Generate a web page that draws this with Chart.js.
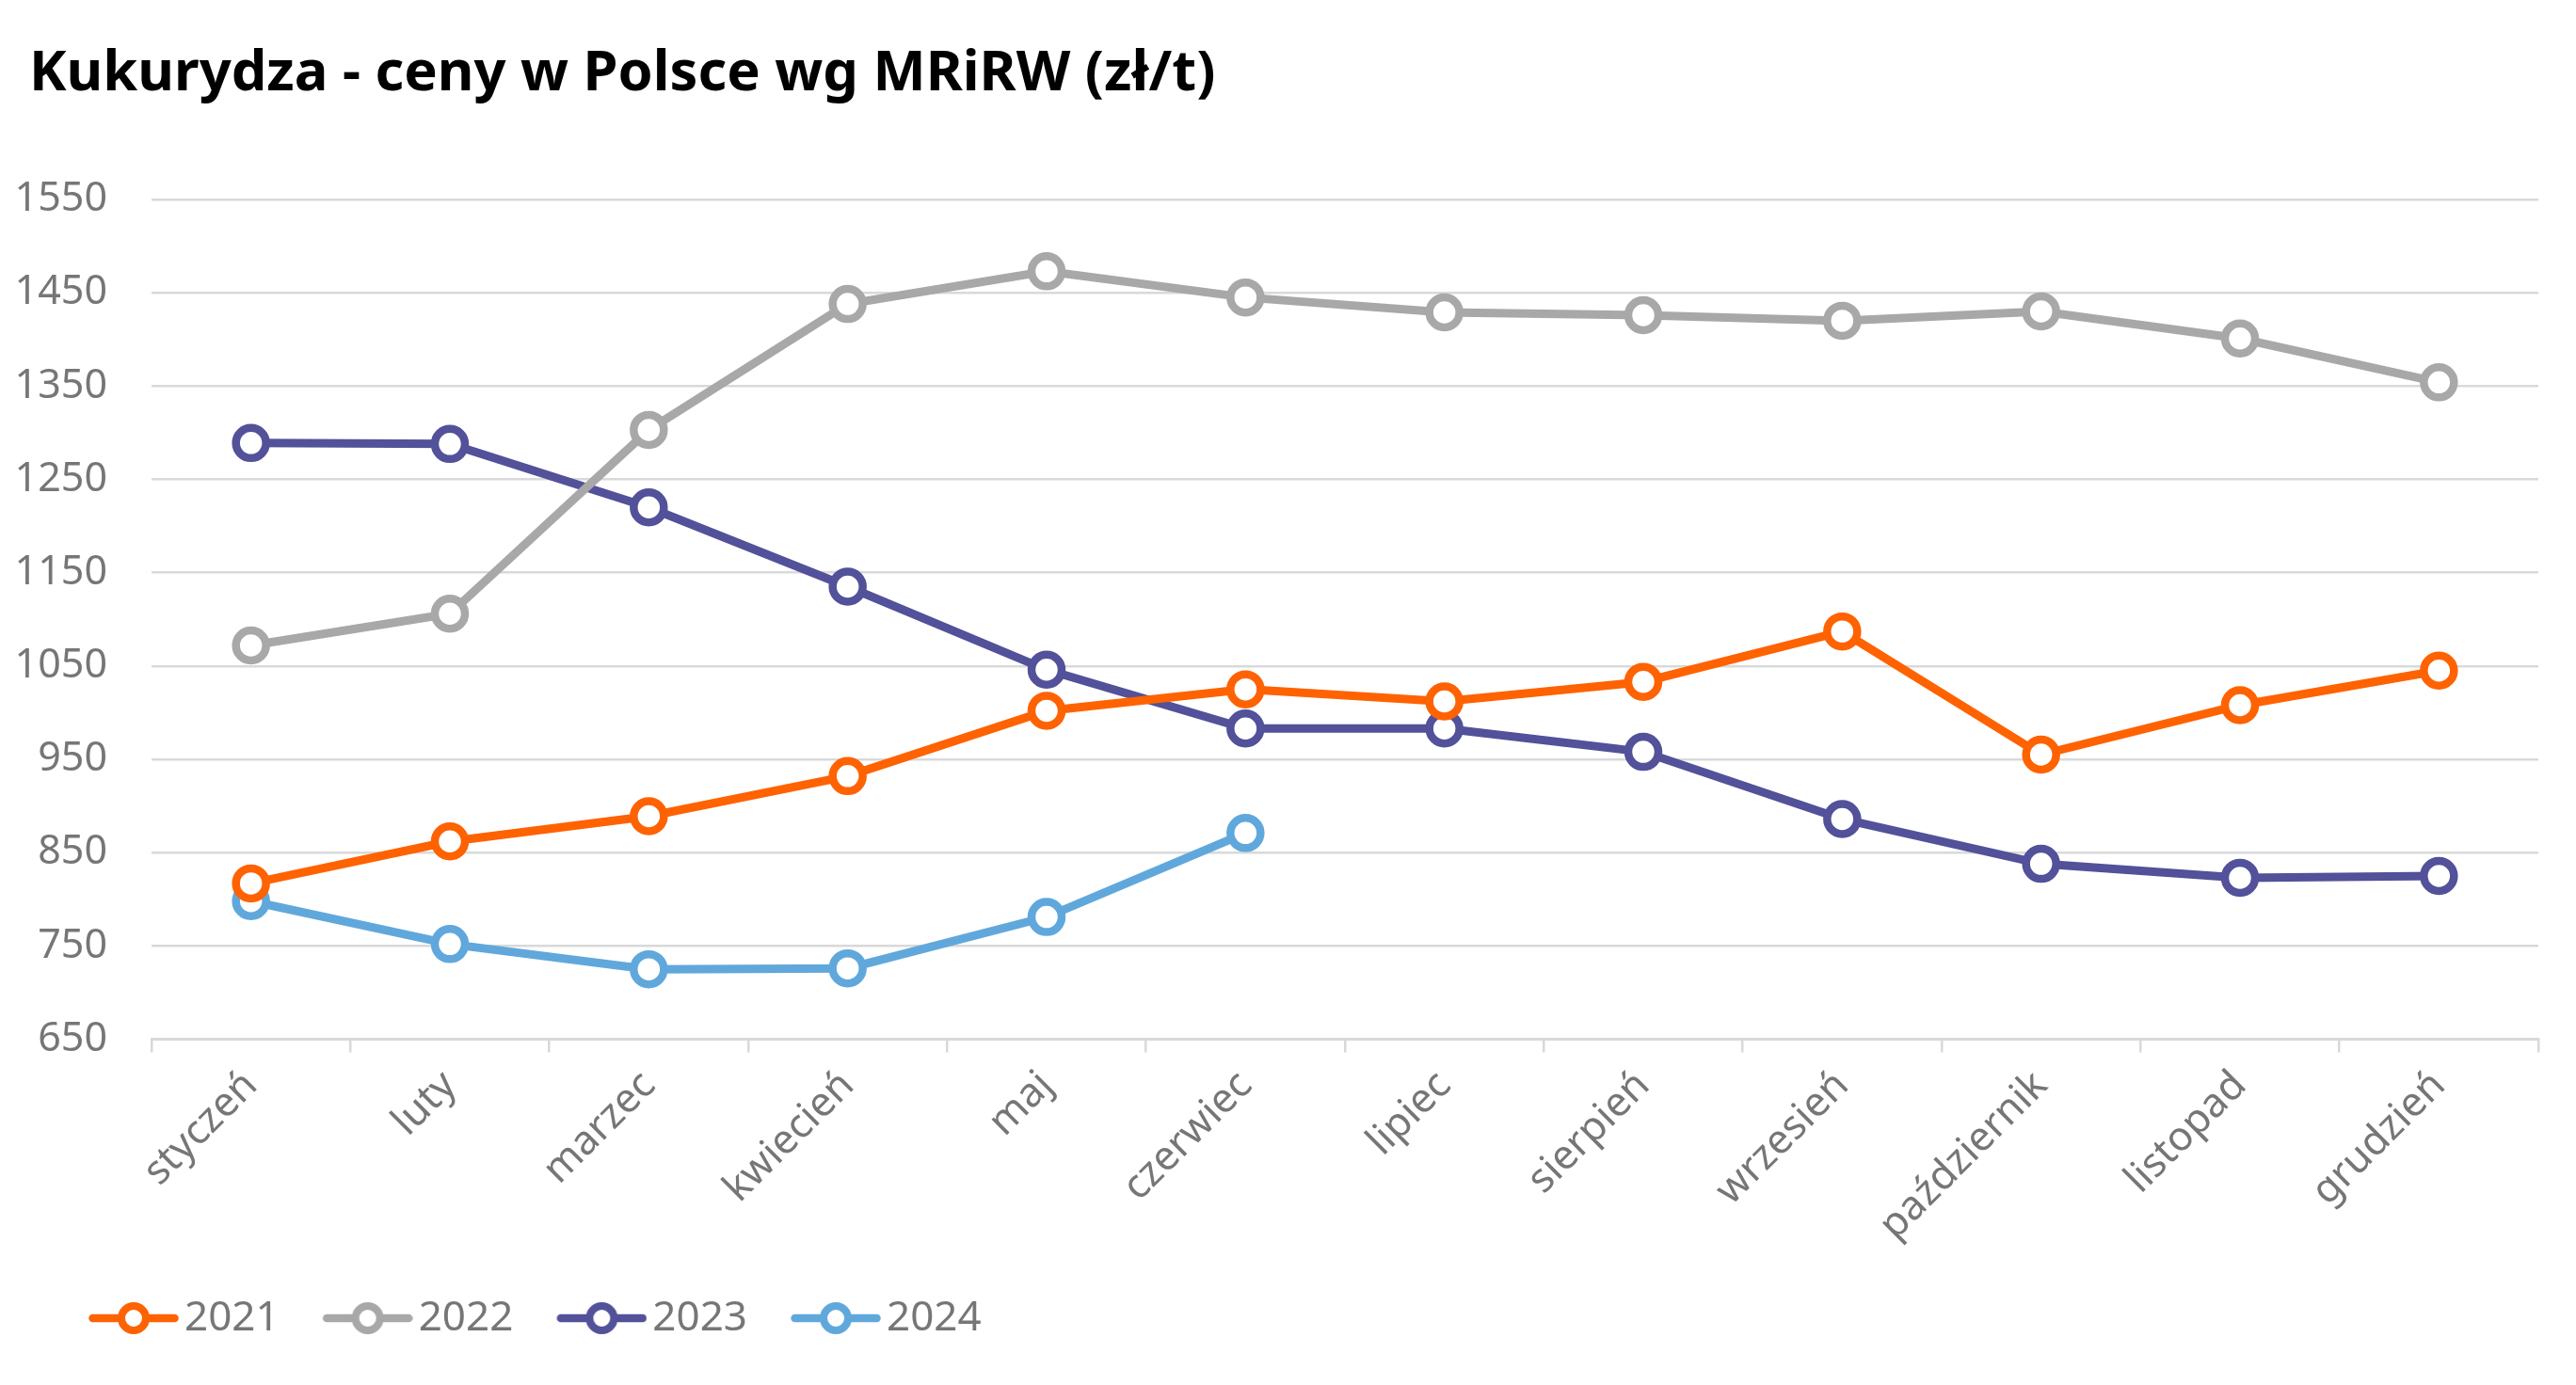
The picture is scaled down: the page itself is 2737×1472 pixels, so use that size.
<!DOCTYPE html>
<html lang="pl">
<head>
<meta charset="utf-8">
<title>Kukurydza - ceny w Polsce wg MRiRW (zł/t)</title>
<script src="https://cdn.jsdelivr.net/npm/chart.js@4.4.1/dist/chart.umd.min.js"></script>
<style>
  html, body { margin: 0; padding: 0; background: #fff; }
  #wrap { position: relative; width: 2737px; height: 1472px; }
</style>
</head>
<body>
<div id="wrap"><canvas id="cornChart"></canvas></div>
<script>
var months = ["styczeń", "luty", "marzec", "kwiecień", "maj", "czerwiec",
              "lipiec", "sierpień", "wrzesień", "październik", "listopad", "grudzień"];
var years = ["2021", "2022", "2023", "2024"];
var prices2021 = [817, 862, 889, 932, 1002, 1025, 1012, 1033, 1087, 955, 1008, 1045];
var prices2022 = [1072, 1106, 1303, 1438, 1473, 1445, 1429, 1426, 1420, 1430, 1401, 1354];
var prices2023 = [1289, 1288, 1220, 1135, 1046, 983, 983, 958, 886, 838, 823, 825];
var prices2024 = [798, 752, 725, 726, 781, 871];
var yTicks = [650, 750, 850, 950, 1050, 1150, 1250, 1350, 1450, 1550];

var chartTitle = "Kukurydza - ceny w Polsce wg MRiRW (zł/t)";
var colors = ["#FF6200", "#A8A8A8", "#525199", "#60A8DC"];
var textGray = "#767676";
var gridGray = "#D9D9D9";
var fontFamily = '"Noto Sans", "Open Sans", sans-serif';

// little line + ring used as legend symbol (drawn in the right 96px)
function legendMarker(color) {
  var c = document.createElement("canvas");
  c.width = 108;
  c.height = 40;
  var g = c.getContext("2d");
  g.strokeStyle = color;
  g.lineWidth = 8.5;
  g.lineCap = "round";
  g.beginPath();
  g.moveTo(16.5, 20);
  g.lineTo(103.5, 20);
  g.stroke();
  g.beginPath();
  g.arc(60, 20, 13, 0, Math.PI * 2);
  g.fillStyle = "#fff";
  g.fill();
  g.lineWidth = 8;
  g.stroke();
  return c;
}

function makeSet(label, values, color) {
  return {
    label: label,
    data: values,
    borderColor: color,
    backgroundColor: color,
    borderWidth: 9,
    pointRadius: 16,
    pointHoverRadius: 16,
    pointBorderWidth: 8.5,
    pointBackgroundColor: "#fff",
    pointBorderColor: color,
    tension: 0,
    fill: false
  };
}

var titlePlugin = {
  id: "leftTitle",
  afterDraw: function(chart) {
    var ctx = chart.ctx;
    ctx.save();
    ctx.font = "bold 59.6px " + fontFamily;
    ctx.fillStyle = "#000";
    ctx.textBaseline = "alphabetic";
    ctx.textAlign = "left";
    ctx.fillText(chartTitle, 31, 96);
    ctx.restore();
  }
};

// legend row starts a bit right of the y labels
var legendShift = {
  id: "legendShift",
  afterLayout: function(chart) {
    if (chart.legend) chart.legend.left = 48;
  }
};

var markers = colors.map(legendMarker);

var ctx = document.getElementById("cornChart").getContext("2d");
var cornChart = new Chart(ctx, {
  type: "line",
  data: {
    labels: months,
    datasets: [
      makeSet(years[0], prices2021, colors[0]),
      makeSet(years[1], prices2022, colors[1]),
      makeSet(years[2], prices2023, colors[2]),
      makeSet(years[3], prices2024, colors[3])
    ]
  },
  options: {
    responsive: true,
    maintainAspectRatio: false,
    devicePixelRatio: 1,
    animation: false,
    layout: {
      padding: { left: 14, right: 40, top: 212, bottom: 39 }
    },
    scales: {
      x: {
        offset: true,
        grid: {
          offset: true,
          drawOnChartArea: false,
          drawTicks: true,
          tickLength: 14,
          color: gridGray,
          lineWidth: 2.5
        },
        border: { display: true, color: gridGray, width: 3 },
        ticks: {
          color: textGray,
          font: { family: fontFamily, size: 43 },
          minRotation: 45,
          maxRotation: 45,
          padding: 10,
          autoSkip: false
        },
        afterFit: function(scale) { scale.height = 224.5; }
      },
      y: {
        min: 650,
        max: 1550,
        afterBuildTicks: function(scale) {
          scale.ticks = yTicks.map(function(v) { return { value: v }; });
        },
        grid: {
          drawTicks: false,
          color: gridGray,
          lineWidth: 2.5
        },
        border: { display: false },
        ticks: {
          color: textGray,
          font: { family: fontFamily, size: 43 },
          padding: 47,
          callback: function(value) { return String(value); }
        },
        afterFit: function(scale) { scale.width = 147; }
      }
    },
    plugins: {
      title: { display: false },
      tooltip: { enabled: false },
      legend: {
        display: true,
        position: "bottom",
        align: "start",
        labels: {
          usePointStyle: true,
          pointStyleWidth: 76,
          padding: 50,
          color: textGray,
          font: { family: fontFamily, size: 44 },
          generateLabels: function(chart) {
            var items = Chart.defaults.plugins.legend.labels.generateLabels(chart);
            items.forEach(function(it, i) {
              it.pointStyle = markers[i];
              it.fontColor = textGray;
            });
            return items;
          }
        }
      }
    }
  },
  plugins: [titlePlugin, legendShift]
});
</script>
</body>
</html>
